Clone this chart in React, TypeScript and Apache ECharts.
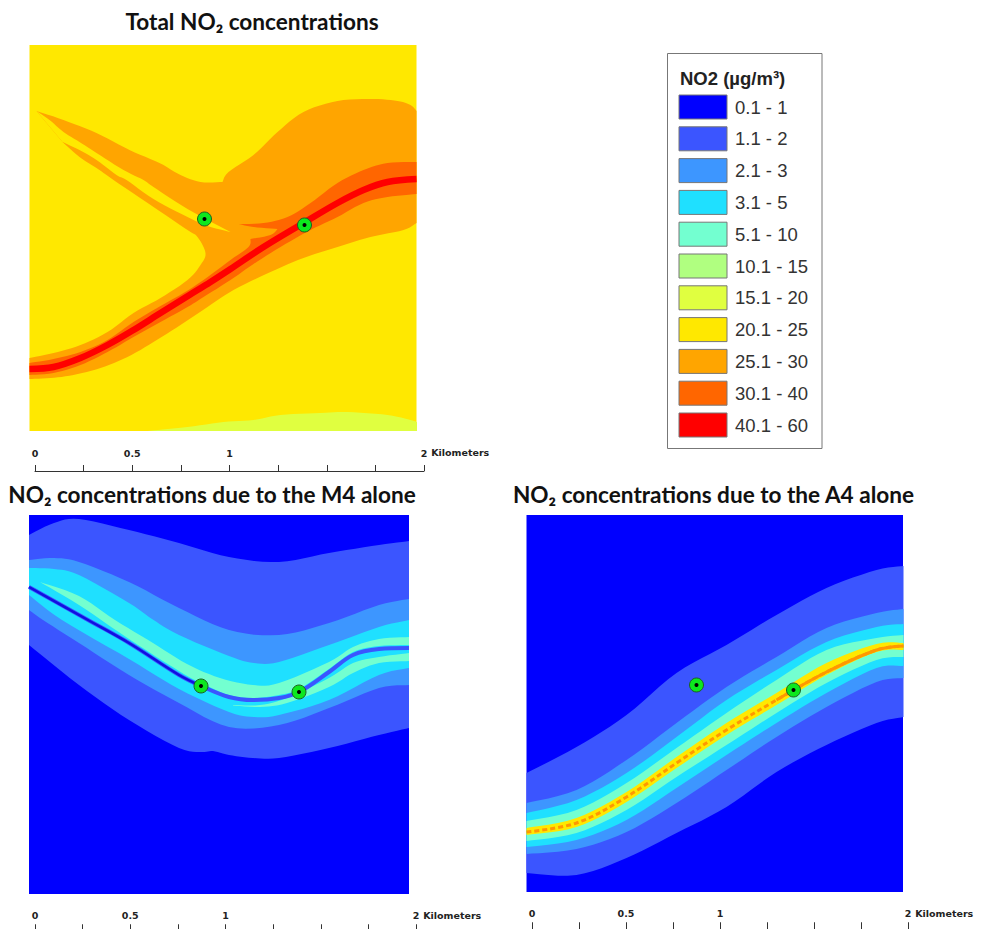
import React, { useEffect, useRef } from "react";
import * as echarts from "echarts";

type Pt = number[];

const legendTitle = "NO2 (µg/m³)";
const legendLabels = ["0.1 - 1", "1.1 - 2", "2.1 - 3", "3.1 - 5", "5.1 - 10", "10.1 - 15", "15.1 - 20", "20.1 - 25", "25.1 - 30", "30.1 - 40", "40.1 - 60"];
const C = ["#0000ff", "#3b55ff", "#3d96ff", "#1fe0ff", "#73ffd0", "#b0ff80", "#e0ff40", "#ffe800", "#ffa500", "#ff6600", "#ff0000"];

const titles = ["Total NO₂ concentrations", "NO₂ concentrations due to the M4 alone", "NO₂ concentrations due to the A4 alone"];
const scaleTicks: Record<string, string> = { "0": "0", "0.5": "0.5", "1": "1", "2": "2" };

// --- Total NO2 map (map units, origin top-left)
const totalMarkers: Pt[] = [[175, 174], [275, 180]];
const total25: Pt[][] = [
  [[7, 66], [34, 75], [67, 88], [100, 105], [130, 118], [151, 130], [171, 137], [193, 137]],
  [[193, 137], [199, 127], [224, 110], [248, 87], [274, 67], [308, 56], [344, 54], [368, 56], [381, 60], [387, 66]],
  [[387, 66], [387, 178]],
  [[387, 178], [374, 185], [341, 192], [308, 202], [274, 213], [241, 227], [204, 245], [178, 262], [151, 280], [124, 297], [98, 312], [71, 323], [44, 330], [21, 333], [0, 334]],
  [[0, 334], [0, 313]],
  [[0, 313], [24, 308], [51, 300], [78, 287], [104, 268], [131, 253], [158, 235], [171, 220], [176, 208], [168, 192], [158, 185], [124, 162], [84, 135], [67, 123], [50, 112], [33, 97]],
  [[33, 97], [7, 66]],
];
const totalSliver: Pt[][] = [
  [[7, 66], [20, 75], [34, 87], [50, 97], [67, 108], [94, 125], [114, 135], [124, 142], [158, 164], [201, 187]],
  [[201, 187], [178, 181], [158, 172], [124, 154], [97, 135], [87, 130], [67, 115], [50, 105], [33, 97]],
  [[33, 97], [7, 66]],
];
const total30: Pt[][] = [
  [[387, 117], [358, 118], [334, 125], [308, 138], [281, 158], [258, 172], [234, 178], [209, 179]],
  [[209, 179], [224, 182], [248, 184]],
  [[248, 184], [241, 190], [221, 194]],
  [[221, 194], [219, 202], [201, 215], [174, 235], [154, 248], [131, 261], [104, 277], [78, 295], [51, 307], [24, 314], [0, 318]],
  [[0, 318], [0, 330]],
  [[0, 330], [24, 328], [51, 320], [78, 307], [104, 292], [131, 277], [158, 262], [174, 252], [201, 235], [224, 219], [251, 202], [281, 185], [308, 172], [334, 158], [358, 152], [387, 149]],
  [[387, 149], [387, 117]],
];
const total15: Pt[][] = [
  [[118, 386], [158, 382], [194, 377], [224, 375], [251, 370], [291, 368], [318, 367], [358, 370], [381, 375], [387, 377]],
  [[387, 377], [387, 386], [118, 386]],
];
const totalRed: Pt[] = [[0, 324], [24, 322], [51, 313], [78, 300], [104, 285], [131, 268], [160, 250], [181, 237], [201, 224], [234, 202], [274, 178], [308, 158], [334, 145], [358, 137], [387, 134]];

// --- M4 map
const m4Markers: Pt[] = [[172, 171], [270, 177]];
const m4Top1: Pt[] = [[0, 20], [25, 8], [50, 4], [100, 15], [150, 28], [200, 42], [250, 47], [300, 38], [350, 30], [380, 26]];
const m4Bot1: Pt[] = [[0, 130], [50, 170], [100, 205], [150, 233], [173, 237], [184, 236], [200, 240], [224, 243], [250, 243], [300, 233], [350, 220], [380, 213]];
const m4Top2: Pt[] = [[0, 45], [25, 43], [50, 47], [100, 67], [150, 93], [200, 115], [250, 120], [300, 108], [350, 90], [380, 84]];
const m4Bot2: Pt[] = [[0, 95], [14, 105], [50, 128], [100, 160], [150, 188], [200, 212], [250, 210], [300, 193], [350, 173], [380, 170]];
const m4Top3: Pt[] = [[0, 53], [25, 54], [50, 60], [100, 88], [123, 104], [150, 120], [200, 141], [225, 148], [250, 147], [300, 130], [350, 112], [380, 105]];
const m4Bot3: Pt[] = [[0, 80], [33, 105], [100, 144], [150, 174], [200, 197], [225, 202], [250, 200], [300, 185], [350, 160], [380, 153]];
const m4GreenTop: Pt[] = [[11, 67], [50, 81], [86, 105], [124, 128], [158, 149], [191, 163], [224, 170], [250, 168], [300, 147], [324, 132], [350, 124], [380, 122]];
const m4GreenBot: Pt[] = [[11, 67], [50, 90], [100, 124], [150, 156], [172, 168], [200, 180], [224, 183], [250, 180], [270, 174], [300, 154], [324, 137], [350, 131], [380, 130]];
const m4Green2Top: Pt[] = [[204, 190], [231, 190], [258, 183], [300, 163], [324, 148], [350, 142], [380, 138]];
const m4Green2Bot: Pt[] = [[204, 190.5], [231, 192], [258, 188], [300, 172], [324, 158], [350, 148], [380, 146]];
const m4Line: Pt[] = [[0, 72], [59, 105], [100, 128], [150, 160], [172, 171], [200, 182], [224, 185], [250, 183], [270, 177], [300, 157], [324, 140], [350, 134], [380, 133]];
const m4LineCore: Pt[] = [[0, 72], [59, 105], [100, 128], [150, 160], [172, 171]];

// --- A4 map
const a4Markers: Pt[] = [[170, 170], [267, 175]];
const a4X = [0, 50, 100, 150, 200, 250, 300, 350, 377];
const a4Top1 = [258, 232, 200, 158, 130, 100, 73, 55, 51];
const a4Top2 = [288, 275, 245, 208, 172, 142, 113, 98, 94];
const a4Top3 = [298, 285, 258, 222, 185, 155, 127, 112, 109];
const a4Top4 = [306, 295, 268, 233, 198, 165, 135, 123, 120];
const a4Top5 = [313, 303, 277, 242, 208, 178, 148, 129, 128];
const a4Mid = [317, 308, 282, 248, 215, 185, 157, 135, 131];
const a4Bot5 = [320, 312, 287, 253, 220, 190, 160, 137, 135];
const a4Bot4 = [326, 318, 295, 262, 230, 198, 168, 145, 142];
const a4Bot3 = [332, 325, 305, 273, 240, 208, 178, 153, 151];
const a4Bot2 = [339, 334, 317, 288, 255, 222, 192, 167, 163];
const a4Bot1 = [358, 360, 343, 318, 292, 257, 230, 208, 202];

const zipX = (ys: number[]): Pt[] => ys.map((y, i) => [a4X[i], y]);

function curve(p: number[][]): number[][] {
  const out: number[][] = [];
  const n = p.length;
  for (let i = 0; i < n - 1; i++) {
    const a = p[Math.max(i - 1, 0)], b = p[i], c = p[i + 1], d = p[Math.min(i + 2, n - 1)];
    for (let k = 0; k < 6; k++) {
      const t = k / 6, t2 = t * t, t3 = t2 * t;
      const f = (j: number) => 0.5 * (2 * b[j] + (c[j] - a[j]) * t + (2 * a[j] - 5 * b[j] + 4 * c[j] - d[j]) * t2 + (3 * b[j] - a[j] - 3 * c[j] + d[j]) * t3);
      out.push([f(0), f(1)]);
    }
  }
  out.push(p[n - 1]);
  return out;
}

function region(panel: number, color: string, segments: Pt[][]) {
  const all = segments.flat();
  return {
    type: "custom",
    xAxisIndex: panel,
    yAxisIndex: panel,
    coordinateSystem: "cartesian2d",
    clip: true,
    silent: true,
    data: [all[0]],
    renderItem: (_p: any, api: any) => ({
      type: "polygon",
      shape: { points: segments.flatMap((s) => curve(s.map((q) => api.coord(q)))) },
      style: { fill: color },
    }),
  };
}
const band = (panel: number, color: string, top: Pt[], bot: Pt[]) => region(panel, color, [top, [top[top.length - 1], bot[bot.length - 1]], [...bot].reverse()]);

function stroke(panel: number, color: string, width: number, data: Pt[], type: any = "solid") {
  return {
    type: "line", xAxisIndex: panel, yAxisIndex: panel, data, smooth: 0.35, showSymbol: false, silent: true,
    lineStyle: { color, width, type }, clip: true,
  };
}
function markers(panel: number, data: Pt[]) {
  return [
    { type: "scatter", xAxisIndex: panel, yAxisIndex: panel, data, symbolSize: 14, silent: true, itemStyle: { color: "#0ce81e", borderColor: "#1d5f24", borderWidth: 1, opacity: 1 }, z: 5 },
    { type: "scatter", xAxisIndex: panel, yAxisIndex: panel, data, symbolSize: 4, silent: true, itemStyle: { color: "#000", opacity: 1 }, z: 6 },
  ];
}

const mapGrids = [
  { left: 29.5, top: 45, width: 387, height: 386, bg: C[7] },
  { left: 29, top: 515, width: 380, height: 379, bg: C[0] },
  { left: 526.5, top: 515, width: 376.5, height: 377, bg: C[0] },
];
const scaleGrids = [
  { left: 35, top: 470, width: 389, tick: 6, margin: 12, namePad: 14 },
  { left: 35, top: 930, width: 381, tick: 6, margin: 10, namePad: 10 },
  { left: 532, top: 929, width: 376, tick: 7, margin: 11, namePad: 11 },
];

export default function App() {
  const ref = useRef<HTMLDivElement>(null);
  useEffect(() => {
    const chart = echarts.init(ref.current!, undefined, { renderer: "svg" });
    const legendX = 679, legendY = 95, rowH = 31.8;
    const option: any = {
      animation: false,
      backgroundColor: "#fff",
      title: [
        { text: titles[0], left: 252, top: 10, textAlign: "center" },
        { text: titles[1], left: 212, top: 483, textAlign: "center" },
        { text: titles[2], left: 713.5, top: 483, textAlign: "center" },
      ].map((t) => ({ ...t, padding: 0, textStyle: { fontFamily: "Lato", fontWeight: "bold", fontSize: 22.6, color: "#111" } })),
      grid: [
        ...mapGrids.map((g) => ({ left: g.left, top: g.top, width: g.width, height: g.height, show: true, backgroundColor: g.bg, borderWidth: 0 })),
        ...scaleGrids.map((g) => ({ left: g.left, top: g.top, width: g.width, height: 1 })),
      ],
      xAxis: [
        ...mapGrids.map((g, i) => ({ gridIndex: i, type: "value", min: 0, max: g.width, show: false })),
        ...scaleGrids.map((g, i) => ({
          gridIndex: i + 3, type: "value", position: "top", min: 0, max: 2, interval: 0.25,
          axisLine: { show: true, lineStyle: { color: "#333", width: 1 } },
          axisTick: { show: true, length: g.tick, lineStyle: { color: "#333", width: 1 } },
          splitLine: { show: false },
          axisLabel: {
            show: true, margin: g.margin, fontFamily: "DejaVu Sans", fontWeight: "bold", fontSize: 9.5, color: "#222",
            formatter: (v: number) => scaleTicks[String(v)] ?? "",
          },
          name: "Kilometers", nameLocation: "end", nameGap: 5,
          nameTextStyle: { fontFamily: "DejaVu Sans", fontWeight: "bold", fontSize: 9.5, color: "#222", align: "left", verticalAlign: "bottom", padding: [0, 0, g.namePad, 0] },
        })),
      ],
      yAxis: [
        ...mapGrids.map((g, i) => ({ gridIndex: i, type: "value", min: 0, max: g.height, inverse: true, show: false })),
        ...scaleGrids.map((_g, i) => ({ gridIndex: i + 3, type: "value", min: 0, max: 1, show: false })),
      ],
      series: [
        // total
        region(0, C[6], total15),
        region(0, C[8], total25),
        region(0, C[7], totalSliver),
        region(0, C[9], total30),
        stroke(0, C[10], 6.5, totalRed),
        ...markers(0, totalMarkers),
        // M4
        band(1, C[1], m4Top1, m4Bot1),
        band(1, C[2], m4Top2, m4Bot2),
        band(1, C[3], m4Top3, m4Bot3),
        band(1, C[4], m4GreenTop, m4GreenBot),
        band(1, C[4], m4Green2Top, m4Green2Bot),
        stroke(1, C[1], 4, m4Line),
        stroke(1, "#1010e0", 2.5, m4LineCore),
        ...markers(1, m4Markers),
        // A4
        band(2, C[1], zipX(a4Top1), zipX(a4Bot1)),
        band(2, C[2], zipX(a4Top2), zipX(a4Bot2)),
        band(2, C[3], zipX(a4Top3), zipX(a4Bot3)),
        band(2, C[4], zipX(a4Top4), zipX(a4Bot4)),
        band(2, C[7], zipX(a4Top5), zipX(a4Bot5)),
        stroke(2, "#ff9800", 3, zipX(a4Mid), [5, 3]),
        stroke(2, "#ff9800", 3, zipX(a4Mid).slice(5)),
        ...markers(2, a4Markers),
      ],
      graphic: [
        { type: "rect", shape: { x: 667.5, y: 53.5, width: 154.5, height: 395 }, style: { fill: "#fff", stroke: "#777", lineWidth: 1 } },
        { type: "text", x: 680, y: 78, style: { text: legendTitle, fontFamily: "Liberation Sans", fontWeight: "bold", fontSize: 18.5, fill: "#222", verticalAlign: "middle" } },
        ...legendLabels.flatMap((label, i) => [
          { type: "rect", shape: { x: legendX, y: legendY + i * rowH, width: 48, height: 24 }, style: { fill: C[i], stroke: "#777", lineWidth: 1 } },
          { type: "text", x: 735, y: legendY + i * rowH + 12, style: { text: label, fontFamily: "Liberation Sans", fontSize: 18.5, fill: "#333", verticalAlign: "middle" } },
        ]),
      ],
    };
    chart.setOption(option);
    return () => chart.dispose();
  }, []);
  return <div ref={ref} style={{ position: "absolute", left: 0, top: 0, width: 983, height: 929 }} />;
}
